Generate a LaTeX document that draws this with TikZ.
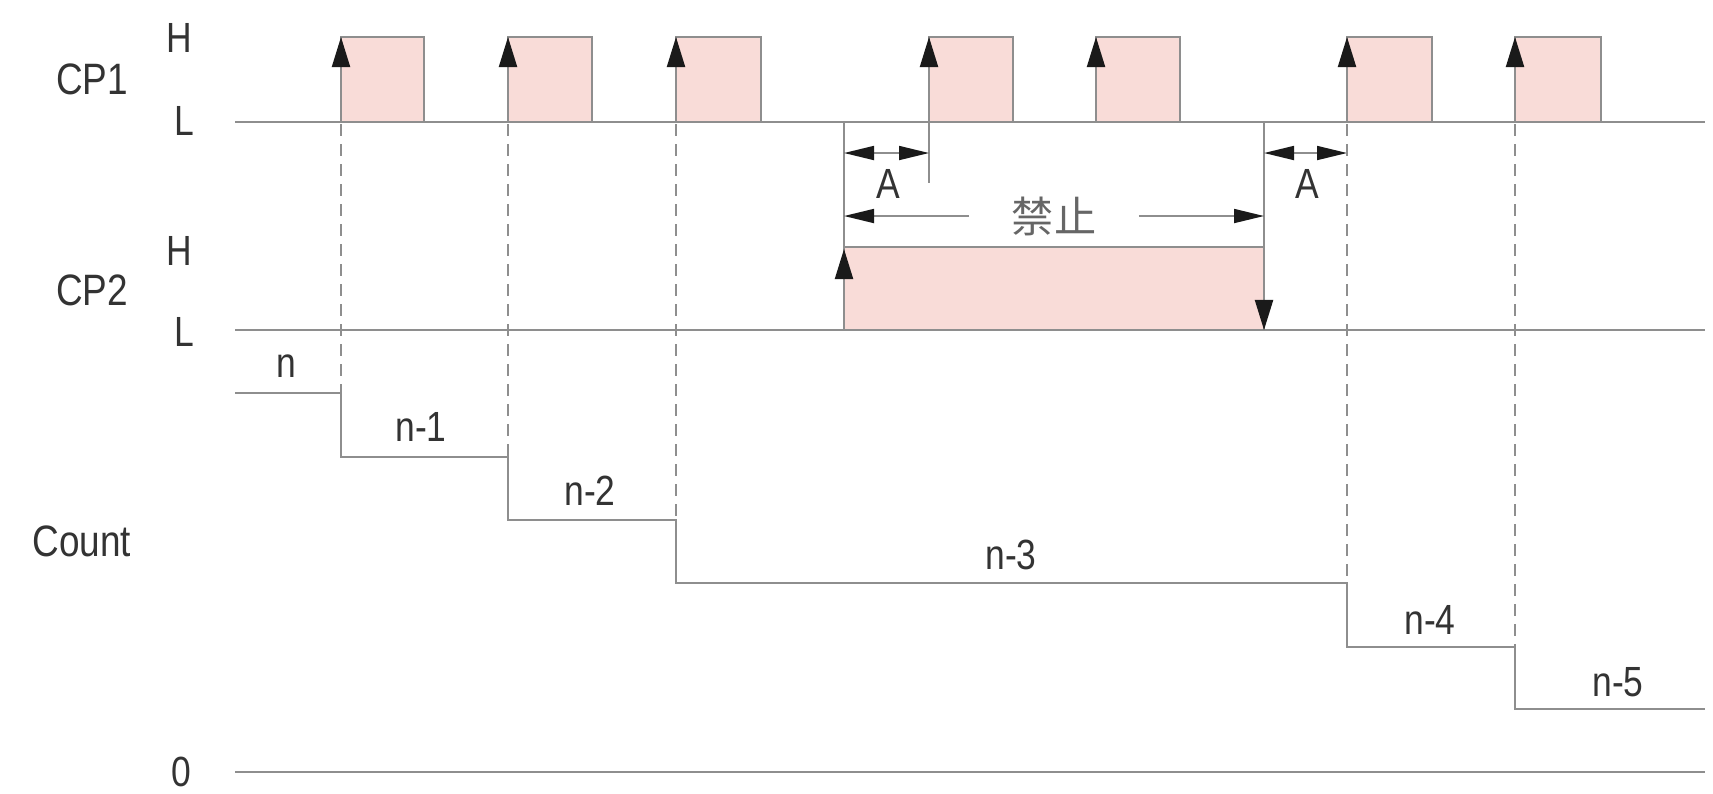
\documentclass[tikz,border=0pt]{standalone}
\usepackage{fontspec}
\setmainfont{Liberation Sans}[FakeStretch=0.84]
\newfontfamily\cjk{Noto Sans CJK SC}
\usetikzlibrary{arrows.meta}
\definecolor{wire}{HTML}{8E8E8E}
\definecolor{pulsebg}{HTML}{F9DCD8}
\definecolor{ink}{HTML}{1A1A1A}
\definecolor{txt}{HTML}{333333}
\tikzset{
  sig/.style={draw=wire, line width=0.6pt},
  pulsebox/.style={draw=wire, fill=pulsebg, line width=0.6pt},
  edgearrow/.style={draw=wire, line width=0.6pt,
    -{Triangle[length=3mm,width=1.8mm,color=ink]}},
  guide/.style={draw=wire, line width=0.6pt, dash pattern=on 1.2mm off 0.8mm},
  dimline/.style={draw=wire, line width=0.5pt,
    {Triangle[length=3mm,width=1.4mm,color=ink]}-{Triangle[length=3mm,width=1.4mm,color=ink]}},
  dimtip/.style={draw=wire, line width=0.5pt,
    -{Triangle[length=3mm,width=1.4mm,color=ink]}},
  lvl/.style={font=\fontsize{12}{14}\selectfont, text=txt, inner sep=0pt},
  signame/.style={font=\fontsize{12.5}{14}\selectfont, text=txt, inner sep=0pt}
}
\begin{document}
\begin{tikzpicture}[x=0.01cm,y=-0.01cm]
\useasboundingbox[fill=white] (0,0) rectangle (1713,793);

\node[signame] (cp1) at (92,79) {CP1};
\node[lvl] (cp1h) at (179,38) {H};
\node[lvl] (cp1l) at (184,121) {L};
\node[signame] (cp2) at (92,290) {CP2};
\node[lvl] (cp2h) at (179,251) {H};
\node[lvl] (cp2l) at (184,332) {L};
\node[signame] (cnt) at (82,541) {Count};
\node[lvl] (zero) at (181,772) {0};

\foreach \a/\b in {341/424,508/592,676/761,929/1013,1096/1180,1347/1432,1515/1601}{
  \draw[pulsebox] (\a,122) rectangle (\b,37);
  \draw[edgearrow] (\a,122) -- (\a,37);
}
\draw[sig] (235,122) -- (1705,122);

\draw[pulsebox] (844,330) rectangle (1264,247);
\draw[sig] (235,330) -- (1705,330);
\draw[sig] (844,122) -- (844,330);
\draw[edgearrow] (844,330) -- (844,249);
\draw[sig] (1264,122) -- (1264,247);
\draw[edgearrow] (1264,247) -- (1264,330);
\draw[sig] (929,122) -- (929,183);

\draw[dimline] (844,153) -- (929,153);
\node[lvl] (a1) at (888,184) {A};
\draw[dimline] (1264,153) -- (1347,153);
\node[lvl] (a2) at (1307,184) {A};
\node[font=\cjk\fontsize{12}{14}\selectfont, text=txt!75, inner xsep=0.42cm, inner ysep=0pt] (ban) at (1054,216) {禁止};
\draw[dimtip] (ban.west) -- (844,216);
\draw[dimtip] (ban.east) -- (1264,216);

\foreach \x/\y in {341/393,508/457,676/520,1347/583,1515/647}
  \draw[guide] (\x,124) -- (\x,\y);

\draw[sig] (235,393) -| (341,457) -| (508,520) -| (676,583) -| (1347,647) -| (1515,709) -- (1705,709);
\draw[sig] (235,772) -- (1705,772);

\foreach \i/\lab/\x/\y in {0/n/286/366,1/n-1/421/427,2/n-2/590/491,3/n-3/1011/555,4/n-4/1430/620,5/n-5/1618/682}
  \node[lvl] (c\i) at (\x,\y) {\lab};
\end{tikzpicture}
\end{document}
